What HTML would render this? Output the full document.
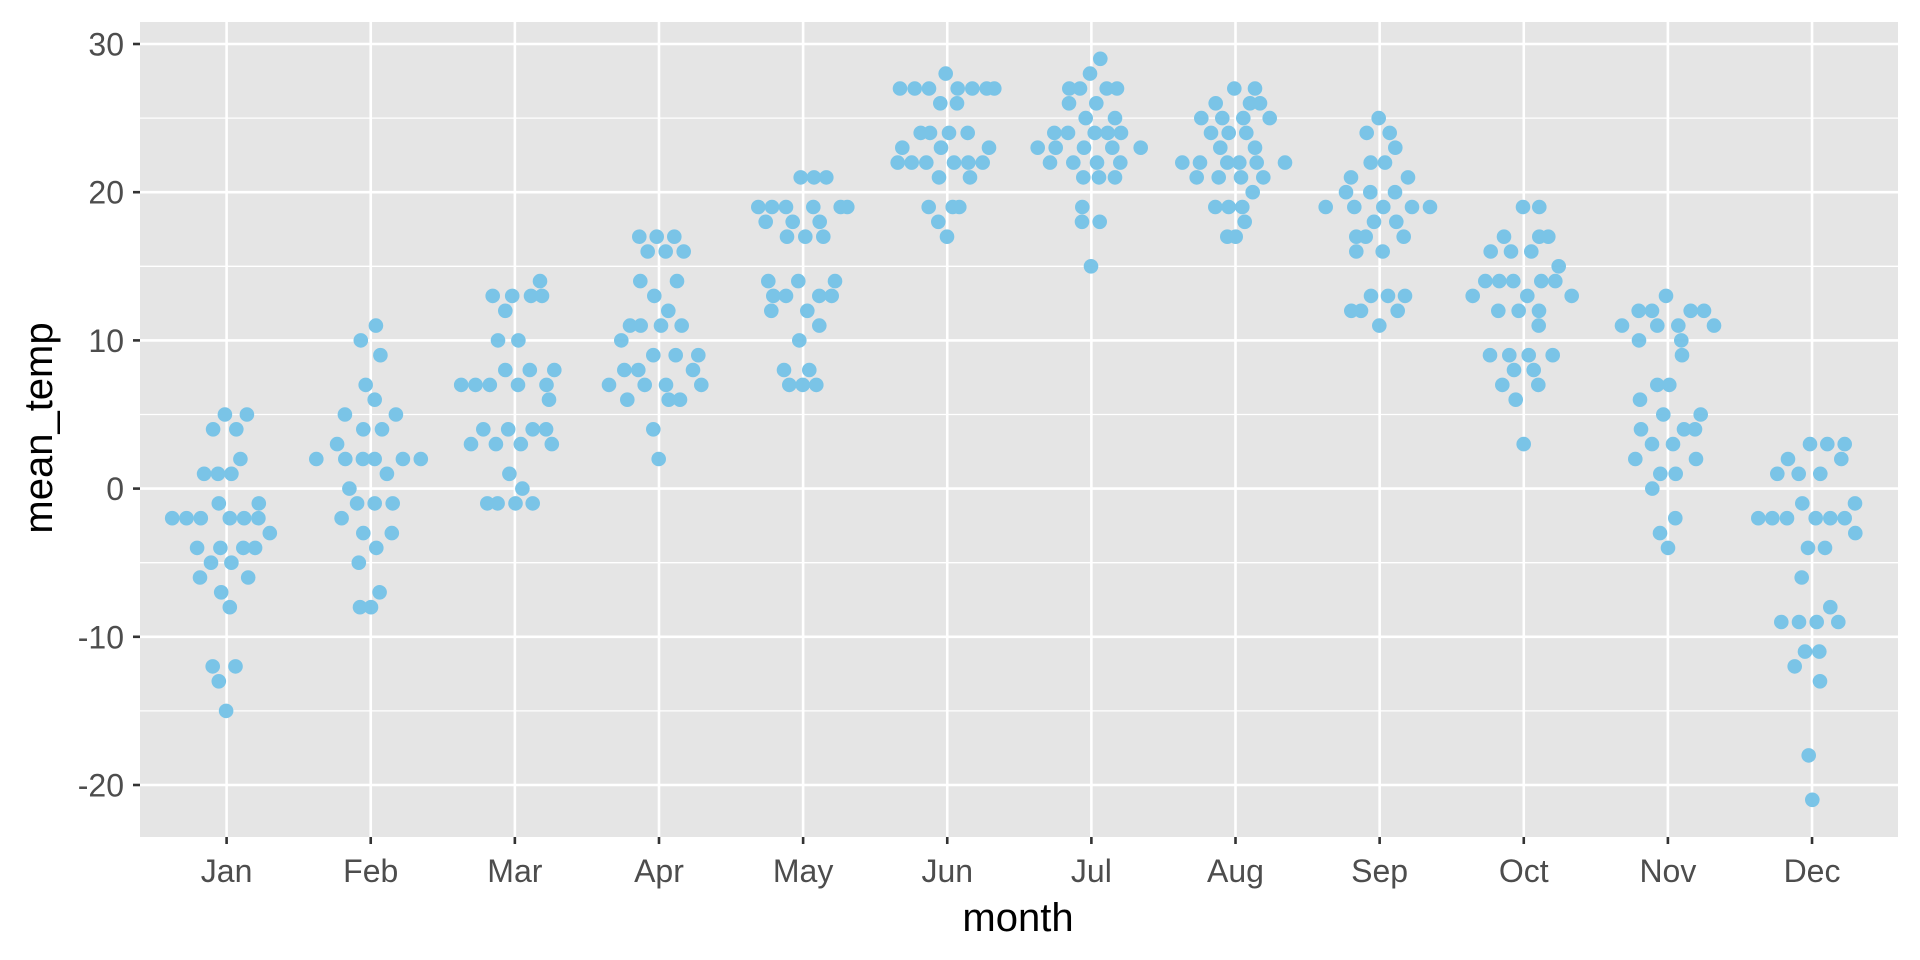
<!DOCTYPE html>
<html><head><meta charset="utf-8"><style>
html,body{margin:0;padding:0;background:#fff;}
svg{display:block;}
</style></head><body>
<svg id="s" width="1920" height="960" xmlns="http://www.w3.org/2000/svg" font-family="'Liberation Sans', Arial, sans-serif">
<rect x="0" y="0" width="1920" height="960" fill="#fff"/>
<rect x="140" y="22" width="1758" height="815" fill="#E5E5E5"/>
<g id="grid"></g>
<g id="pts" fill="#7AC4E7"></g>
<g id="axes"></g>
<text x="1018" y="931" font-size="40" text-anchor="middle" fill="#000">month</text>
<text transform="translate(52,428) rotate(-90)" font-size="40" text-anchor="middle" fill="#000">mean_temp</text>
</svg>
<script>
var NS="http://www.w3.org/2000/svg";
function el(p,t,a,txt){var e=document.createElementNS(NS,t);for(var k in a)e.setAttribute(k,a[k]);if(txt!=null)e.textContent=txt;document.getElementById(p).appendChild(e);}
function Y(v){return 488.6-v*14.82;}
var L=140,R=1898;
// minor
[25,15,5,-5,-15].forEach(function(v){el("grid","line",{x1:L,x2:R,y1:Y(v),y2:Y(v),stroke:"#fff","stroke-width":1.3});});
[30,20,10,0,-10,-20].forEach(function(v){el("grid","line",{x1:L,x2:R,y1:Y(v),y2:Y(v),stroke:"#fff","stroke-width":2.6});
 el("axes","line",{x1:133,x2:140,y1:Y(v),y2:Y(v),stroke:"#333","stroke-width":2.6});
 el("axes","text",{x:124,y:Y(v)+11.5,"font-size":32,"text-anchor":"end",fill:"#4D4D4D"},String(v));});
var months=["Jan","Feb","Mar","Apr","May","Jun","Jul","Aug","Sep","Oct","Nov","Dec"];
for(var i=0;i<12;i++){var x=226.6+i*144.13;
 el("grid","line",{x1:x,x2:x,y1:22,y2:837,stroke:"#fff","stroke-width":2.6});
 el("axes","line",{x1:x,x2:x,y1:837,y2:844,stroke:"#333","stroke-width":2.6});
 el("axes","text",{x:x,y:882,"font-size":32,"text-anchor":"middle",fill:"#4D4D4D"},months[i]);}
// data: groups [x0, scale, {value:[X...]}]
var G=[
[0,2.45,{"-2":[422,457,492,563,598,633],"-4":[483,540,596,625],"-5":[517,567],"-6":[490,608],"1":[500,534,567],"4":[522,579],"5":[551,605],"2":[589],"-1":[536,634],"-3":[661],"-7":[542],"-8":[563],"-12":[521,577],"-13":[536],"-15":[554]}],
[0,2.45,{"2":[775,846,889,918,987,1031],"3":[826],"5":[845,970],"0":[856],"-2":[837],"-1":[875,918,962],"10":[884],"11":[921],"9":[932],"7":[896],"6":[918],"4":[890,936],"1":[948],"-3":[890,960],"-4":[922],"-5":[879],"-7":[930],"-8":[882,909]}],
[0,2.45,{"7":[1130,1165,1200,1269,1339],"3":[1154,1215,1276,1352],"4":[1184,1245,1305,1338],"13":[1207,1255,1301,1328],"12":[1238],"10":[1220,1270],"8":[1238,1298,1358],"14":[1323],"6":[1345],"1":[1248],"0":[1280],"-1":[1194,1219,1263,1305]}],
[580,3,{"17":[178,230,283],"16":[203,257,311],"14":[181,291],"13":[223],"12":[265],"11":[150,182,243,305],"10":[124],"9":[220,287,355],"8":[133,175,339],"7":[87,194,258,364],"6":[142,266,300],"4":[220],"2":[236]}],
[580,3,{"21":[662,702,739],"19":[535,576,618,700,782,802],"18":[557,638,719],"17":[621,676,730],"14":[565,655,765],"13":[580,618,718,755],"12":[574,682],"11":[718],"10":[658],"8":[612,688],"7":[628,668,709]}],
[580,3,{"28":[1097],"27":[960,1004,1047,1133,1177,1220,1243],"26":[1081,1131],"24":[1022,1050,1107,1163],"23":[967,1083,1227],"22":[953,995,1039,1122,1165,1208],"21":[1077,1170],"19":[1046,1118,1138],"18":[1075],"17":[1101]}],
[1010,3,{"29":[271],"28":[240],"27":[178,210,290,321],"26":[177,259],"25":[227,315],"24":[133,174,254,293,333],"23":[83,137,222,307,392],"22":[120,190,261,331],"21":[220,267,315],"19":[217],"18":[216,269],"15":[243]}],
[1010,3,{"27":[673,735],"26":[617,720,750],"25":[574,637,700,779],"24":[603,656,709],"23":[631,735],"22":[517,570,652,688,740,825],"21":[560,626,693,760],"20":[728],"19":[616,656,697],"18":[704],"17":[652,677]}],
[1010,3,{"25":[1106],"24":[1070,1139],"23":[1156],"22":[1082,1125],"21":[1023,1194],"20":[1008,1081,1155],"19":[947,1033,1120,1206,1260],"18":[1092,1159],"17":[1039,1067,1181],"16":[1039,1118],"13":[1083,1134,1185],"12":[1024,1053,1163],"11":[1108]}],
[1440,3,{"19":[249,298],"17":[192,298,325],"16":[152,213,274],"15":[356],"14":[136,178,220,304,346],"13":[98,262,395],"12":[175,236,297],"11":[296],"9":[150,208,266,338],"8":[222,281],"7":[187,295],"6":[227],"3":[251]}],
[1440,3,{"13":[678],"12":[596,636,752,792],"11":[546,652,715,822],"10":[597,724],"9":[726],"7":[652,688],"6":[600],"5":[670,782],"4":[603,732,765],"3":[636,699],"2":[586,768],"1":[661,707],"0":[637],"-2":[706],"-3":[660],"-4":[684]}],
[1440,3,{"3":[1110,1162,1214],"2":[1044,1204],"1":[1012,1076,1141],"-1":[1087,1245],"-2":[955,997,1041,1127,1171,1214],"-3":[1246],"-4":[1104,1155],"-6":[1085],"-8":[1171],"-9":[1024,1077,1130,1195],"-11":[1095,1138],"-12":[1064],"-13":[1140],"-18":[1106],"-21":[1117]}]
];
G.forEach(function(g){for(var v in g[2]){g[2][v].forEach(function(X){el("pts","circle",{cx:(g[0]+X/g[1]).toFixed(1),cy:Y(+v).toFixed(1),r:7.3});});}});
</script>
</body></html>
